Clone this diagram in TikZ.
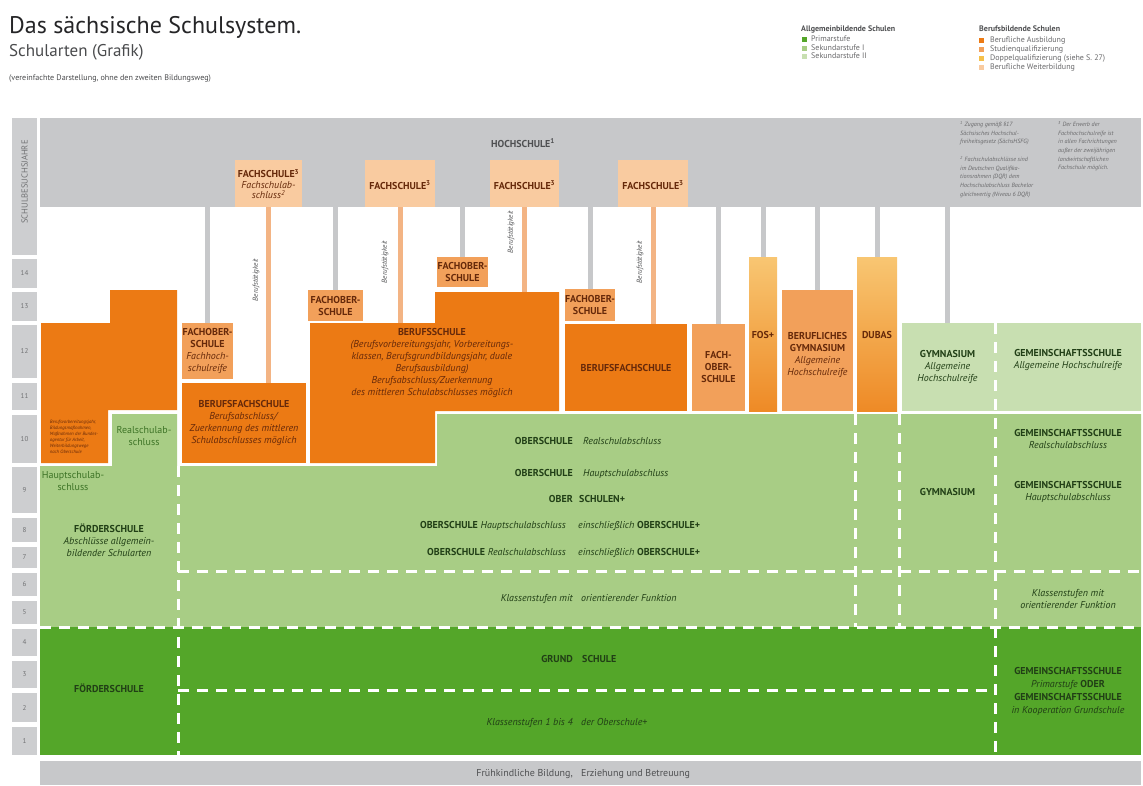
\documentclass[tikz,border=0pt]{standalone}
\usepackage{fontspec}
\setmainfont{PT Sans}
% colours of the school types
\definecolor{band}{HTML}{C7C8CA}
\definecolor{yearbox}{HTML}{CDCED0}
\definecolor{ausb}{HTML}{EC7A14}
\definecolor{studq}{HTML}{F2A05A}
\definecolor{dqtop}{HTML}{F8C672}
\definecolor{dqbot}{HTML}{EE8A26}
\definecolor{dqleg}{HTML}{F5C04A}
\definecolor{weiterb}{HTML}{F9CBA0}
\definecolor{stemor}{HTML}{F3B484}
\definecolor{prim}{HTML}{54A629}
\definecolor{sekA}{HTML}{A8CD85}
\definecolor{sekB}{HTML}{C8DFB1}
\definecolor{brown}{HTML}{66290A}
\definecolor{dgreen}{HTML}{213F16}
\definecolor{mgreen}{HTML}{3D7326}
\definecolor{greytxt}{HTML}{4F5052}
\definecolor{numtxt}{HTML}{717274}
\definecolor{titletxt}{HTML}{252527}
\definecolor{subtxt}{HTML}{4A4B4D}
\definecolor{legtxt}{HTML}{6A6A6C}

% rectangular block given by its corners: name, fill options, x1, y1, x2, y2
\newcommand{\blk}[6]{%
  \node[blk, #2, minimum width={(#5)-(#3)}, minimum height={(#6)-(#4)},
        anchor=north west] (#1) at (#3,#4) {};}

\tikzset{
  blk/.style={rectangle, draw=none, inner sep=0pt, outer sep=0pt},
  txtn/.style={inner sep=0pt, align=center, font=\fontsize{10}{12}\selectfont},
  bcap/.style={txtn, font=\bfseries\fontsize{10}{12}\selectfont},
  itl/.style={txtn, font=\itshape\fontsize{10}{12}\selectfont},
  dq/.style={top color=dqtop, bottom color=dqbot},
  gstem/.style={draw=band, line width=5pt},
  ostem/.style={draw=stemor, line width=5pt},
  wdash/.style={draw=white, line width=3pt, dash pattern=on 11pt off 8pt},
  beruf/.style={rotate=90, inner sep=0pt, text=greytxt,
                font=\itshape\fontsize{7.2}{8}\selectfont},
  legitem/.style={anchor=base west, inner sep=0pt, text=legtxt,
                  font=\fontsize{8}{9}\selectfont},
  leghead/.style={anchor=base west, inner sep=0pt, text=greytxt,
                  font=\bfseries\fontsize{8}{9}\selectfont},
  foot/.style={anchor=north west, inner sep=0pt, align=left, text=legtxt,
               font=\itshape\fontsize{6.1}{8.6}\selectfont},
}

\begin{document}
\begin{tikzpicture}[x=1pt,y=-1pt]
\useasboundingbox (0,0) rectangle (1143,785);
\fill[white] (0,0) rectangle (1143,785);

% ---------- heading ----------
\node[anchor=base west, inner sep=0pt, text=titletxt,
      font=\fontsize{24}{28}\selectfont] (title) at (9,33) {Das sächsische Schulsystem.};
\node[anchor=base west, inner sep=0pt, text=subtxt,
      font=\fontsize{17}{20}\selectfont] (subtitle) at (9,56) {Schularten (Grafik)};
\node[anchor=base west, inner sep=0pt, text=subtxt,
      font=\fontsize{8.1}{9}\selectfont] (remark) at (9,80)
      {(vereinfachte Darstellung, ohne den zweiten Bildungsweg)};

% ---------- legend ----------
\node[leghead] (legA) at (801,31) {Allgemeinbildende Schulen};
\fill[prim] (802,37) rectangle (807,42);
\node[legitem] (legA1) at (811,41.5) {Primarstufe};
\fill[sekA] (802,45.5) rectangle (807,50.5);
\node[legitem] (legA2) at (811,50) {Sekundarstufe I};
\fill[sekB] (802,54) rectangle (807,59);
\node[legitem] (legA3) at (811,58.5) {Sekundarstufe II};

\node[leghead] (legB) at (979,31) {Berufsbildende Schulen};
\fill[ausb] (979,37.5) rectangle (984,42.5);
\node[legitem] (legB1) at (990,42) {Berufliche Ausbildung};
\fill[studq] (979,46.5) rectangle (984,51.5);
\node[legitem] (legB2) at (990,51) {Studienqualifizierung};
\fill[dqleg] (979,55.5) rectangle (984,60.5);
\node[legitem] (legB3) at (990,60) {Doppelqualifizierung (siehe S. 27)};
\fill[weiterb] (979,64.5) rectangle (984,69.5);
\node[legitem] (legB4) at (990,69) {Berufliche Weiterbildung};

% ---------- year scale ----------
\blk{sbjbox}{fill=yearbox}{12}{118}{37}{255}
\node[rotate=90, inner sep=0pt, text=numtxt, font=\fontsize{8.6}{9}\selectfont]
     (sbj) at (24.5,182) {SCHULBESUCHSJAHRE};
\foreach \n/\a/\b in {14/259/288, 13/292/321, 12/325/378, 11/383/410,
                      10/415/463, 9/467/513, 8/518/542, 7/547/568, 6/573/596,
                      5/601/624, 4/629/656, 3/661/688, 2/693/722, 1/727/755}{
  \fill[yearbox] (12,\a) rectangle (37,\b);
  \node[inner sep=0pt, text=numtxt, font=\fontsize{7}{8}\selectfont]
       (yr\n) at (24.5,{(\a+\b)/2}) {\n};
}

% ---------- higher education band ----------
\blk{hs}{fill=band}{40}{118}{1141}{207}
\node[bcap, text=greytxt] (hstext) at (523,143) {HOCHSCHULE\textsuperscript{1}};
\node[foot] (fnA) at (960,121) {\textsuperscript{1} Zugang gemäß §17\\Sächsisches Hochschul-\\freiheitsgesetz (SächsHSFG)};
\node[foot] (fnB) at (960,156) {\textsuperscript{2} Fachschulabschlüsse sind\\im Deutschen Qualifika-\\tionsrahmen (DQR) dem\\Hochschulabschluss Bachelor\\gleichwertig (Niveau 6 DQR)};
\node[foot] (fnC) at (1058,121) {\textsuperscript{3} Der Erwerb der\\Fachhochschulreife ist\\in allen Fachrichtungen\\außer der zweijährigen\\landwirtschaftlichen\\Fachschule möglich.};

% Fachschulen (berufliche Weiterbildung)
\blk{fs1}{fill=weiterb}{235}{160}{302}{207}
\blk{fs2}{fill=weiterb}{365}{160}{435}{207}
\blk{fs3}{fill=weiterb}{490}{160}{559}{207}
\blk{fs4}{fill=weiterb}{618}{160}{688}{207}

% ---------- vocational schools ----------
% block left of the scale: Berufsvorbereitung
\fill[ausb] (41,323) -- (110,323) -- (110,290) -- (177,290) -- (177,410)
            -- (108,410) -- (108,463) -- (41,463) -- cycle;
% Berufsschule
\fill[ausb] (310,323) -- (435,323) -- (435,292) -- (559,292) -- (559,411)
            -- (435,411) -- (435,463) -- (310,463) -- cycle;
\coordinate (bsL) at (372,323);
\coordinate (bsR) at (497,292);

\blk{fosA}{fill=studq}{182}{323}{233}{379}
\blk{fosB}{fill=studq}{308}{290}{363}{321}
\blk{fosC}{fill=studq}{437}{257}{488}{287}
\blk{fosD}{fill=studq}{565}{289}{615}{321}
\blk{bfsL}{fill=ausb}{182}{383}{306}{463}
\blk{bfsR}{fill=ausb}{565}{324}{687}{411}
\blk{fob}{fill=studq}{692}{324}{745}{411}
\blk{fosp}{dq}{749}{257}{777}{411}
\blk{bgym}{fill=studq}{782}{290}{853}{411}
\blk{dubas}{dq}{857}{257}{897}{411}

% ---------- general education ----------
\fill[sekB] (902,323) rectangle (1141,411);
\coordinate (gymII) at (947,323);
\fill[sekA] (40,466) -- (112,466) -- (112,414) -- (177,414) -- (177,466)
            -- (437,466) -- (437,414) -- (1141,414) -- (1141,627) -- (40,627) -- cycle;
\fill[prim] (40,627) rectangle (1141,755);
\blk{fb}{fill=band}{40}{761}{1141}{785}

% ---------- transitions to the Hochschule ----------
\foreach \b in {fosA, fosB, fosC, fosD, fob, fosp, bgym, dubas}{
  \draw[gstem] (hs.south -| \b.north) -- (\b.north);
}
\draw[gstem] (hs.south -| gymII) -- (gymII);
% Berufstätigkeit leads to the Fachschulen
\draw[ostem] (fs1.south) -- (fs1.south |- bfsL.north);
\draw[ostem] (fs2.south) -- (fs2.south |- bsL);
\draw[ostem] (fs3.south) -- (fs3.south |- bsR);
\draw[ostem] (fs4.south) -- (fs4.south |- bfsR.north);
\node[beruf] (bt1) at (256,280) {Berufstätigkeit};
\node[beruf] (bt2) at (385,262) {Berufstätigkeit};
\node[beruf] (bt3) at (511,232) {Berufstätigkeit};
\node[beruf] (bt4) at (640,262) {Berufstätigkeit};

% ---------- dashed divisions ----------
\draw[wdash] (178,466) -- (178,758);
\draw[wdash] (855,414) -- (855,627);
\draw[wdash] (899,414) -- (899,627);
\draw[wdash] (995,323) -- (995,758);
\draw[wdash] (178,571) -- (1141,571);
\draw[wdash] (40,627) -- (1141,627);
\draw[wdash] (178,690) -- (995,690);

% ---------- texts in the Fachschulen ----------
\node[txtn, text=brown] (fs1t) at (268.5,184)
     {\textbf{FACHSCHULE\textsuperscript{3}}\\[-1.5pt]\textit{Fachschulab-}\\[-1.5pt]\textit{schluss\textsuperscript{2}}};
\node[bcap, text=brown] (fs2t) at (400,185) {FACHSCHULE\textsuperscript{3}};
\node[bcap, text=brown] (fs3t) at (524.5,185) {FACHSCHULE\textsuperscript{3}};
\node[bcap, text=brown] (fs4t) at (653,185) {FACHSCHULE\textsuperscript{3}};

% ---------- texts in the vocational schools ----------
\node[inner sep=0pt, align=left, text=brown, font=\itshape\fontsize{4.7}{6}\selectfont]
     (bvj) at (74,437) {Berufsvorbereitungsjahr,\\Bildungsmaßnahmen,\\Maßnahmen der Bundes-\\agentur für Arbeit,\\Weiterbildungswege\\nach Oberschule};
\node[txtn, text=brown] (fosAt) at (207.5,351)
     {\textbf{FACHOBER-}\\\textbf{SCHULE}\\\textit{Fachhoch-}\\\textit{schulreife}};
\node[bcap, text=brown] (fosBt) at (335.5,305.5) {FACHOBER-\\SCHULE};
\node[bcap, text=brown] (fosCt) at (462.5,272) {FACHOBER-\\SCHULE};
\node[bcap, text=brown] (fosDt) at (590,305) {FACHOBER-\\SCHULE};
\node[txtn, text=brown] (bfsLt) at (244,423)
     {\textbf{BERUFSFACHSCHULE}\\\textit{Berufsabschluss/}\\\textit{Zuerkennung des mittleren}\\\textit{Schulabschlusses möglich}};
\node[txtn, text=brown] (bst) at (432,363)
     {\textbf{BERUFSSCHULE}\\\textit{(Berufsvorbereitungsjahr, Vorbereitungs-}\\\textit{klassen, Berufsgrundbildungsjahr, duale}\\\textit{Berufsausbildung)}\\\textit{Berufsabschluss/Zuerkennung}\\\textit{des mittleren Schulabschlusses möglich}};
\node[bcap, text=brown] (bfsRt) at (626,368) {BERUFSFACHSCHULE};
\node[bcap, text=brown] (fobt) at (718.5,367) {FACH-\\OBER-\\SCHULE};
\node[bcap, text=brown] (fospt) at (763,335) {FOS+};
\node[txtn, text=brown] (bgymt) at (817.5,355)
     {\textbf{BERUFLICHES}\\\textbf{GYMNASIUM}\\\textit{Allgemeine}\\\textit{Hochschulreife}};
\node[bcap, text=brown] (dubast) at (877,335) {DUBAS};

% ---------- texts in the general schools ----------
\node[txtn, text=dgreen] (gymIIt) at (947.5,367)
     {\textbf{GYMNASIUM}\\\textit{Allgemeine}\\\textit{Hochschulreife}};
\node[txtn, text=dgreen] (gsIIt) at (1068,360)
     {\textbf{GEMEINSCHAFTSSCHULE}\\\textit{Allgemeine Hochschulreife}};
\node[txtn, text=mgreen] (rsa) at (144,436) {Realschulab-\\schluss};
\node[txtn, text=mgreen] (hsa) at (73,481) {Hauptschulab-\\schluss};
\node[txtn, text=dgreen] (fsI) at (109,540)
     {\textbf{FÖRDERSCHULE}\\\textit{Abschlüsse allgemein-}\\\textit{bildender Schularten}};

\node[bcap, text=dgreen, anchor=base east] (os1a) at (573,444) {OBERSCHULE};
\node[itl, text=dgreen, anchor=base west] (os1b) at (583,444) {Realschulabschluss};
\node[bcap, text=dgreen, anchor=base east] (os2a) at (573,476) {OBERSCHULE};
\node[itl, text=dgreen, anchor=base west] (os2b) at (583,476) {Hauptschulabschluss};
\node[bcap, text=dgreen, anchor=base east] (os3a) at (573,502) {OBER};
\node[bcap, text=dgreen, anchor=base west] (os3b) at (579,502) {SCHULEN+};
\node[txtn, text=dgreen, anchor=base east] (os4a) at (566,528.5)
     {\textbf{OBERSCHULE} \textit{Hauptschulabschluss}};
\node[txtn, text=dgreen, anchor=base west] (os4b) at (578,528.5)
     {\textit{einschließlich} \textbf{OBERSCHULE+}};
\node[txtn, text=dgreen, anchor=base east] (os5a) at (566,555)
     {\textbf{OBERSCHULE} \textit{Realschulabschluss}};
\node[txtn, text=dgreen, anchor=base west] (os5b) at (578,555)
     {\textit{einschließlich} \textbf{OBERSCHULE+}};
\node[itl, text=dgreen, anchor=base east] (os6a) at (573,601.5) {Klassenstufen mit};
\node[itl, text=dgreen, anchor=base west] (os6b) at (581,601.5) {orientierender Funktion};

\node[bcap, text=dgreen] (gymIt) at (947.5,492) {GYMNASIUM};
\node[txtn, text=dgreen] (gsIt1) at (1068,439)
     {\textbf{GEMEINSCHAFTSSCHULE}\\\textit{Realschulabschluss}};
\node[txtn, text=dgreen] (gsIt2) at (1068,492)
     {\textbf{GEMEINSCHAFTSSCHULE}\\\textit{Hauptschulabschluss}};
\node[itl, text=dgreen] (gsIt3) at (1068,599) {Klassenstufen mit\\orientierender Funktion};

% ---------- primary level ----------
\node[bcap, text=dgreen] (fsP) at (109,688) {FÖRDERSCHULE};
\node[bcap, text=dgreen, anchor=base east] (gs1) at (573,662.5) {GRUND};
\node[bcap, text=dgreen, anchor=base west] (gs2) at (582,662.5) {SCHULE};
\node[itl, text=dgreen, anchor=base east] (ks1) at (573,725.5) {Klassenstufen 1 bis 4};
\node[itl, text=dgreen, anchor=base west] (ks2) at (581,725.5) {der Oberschule+};
\node[txtn, text=dgreen, font=\fontsize{10}{13}\selectfont] (gsP) at (1068,691.5)
     {\textbf{GEMEINSCHAFTSSCHULE}\\\textit{Primarstufe} \textbf{ODER}\\\textbf{GEMEINSCHAFTSSCHULE}\\\textit{in Kooperation Grundschule}};

% ---------- early childhood ----------
\node[txtn, text=greytxt, anchor=base east] (fk1) at (573,776.5) {Frühkindliche Bildung,};
\node[txtn, text=greytxt, anchor=base west] (fk2) at (581,776.5) {Erziehung und Betreuung};
\end{tikzpicture}
\end{document}
